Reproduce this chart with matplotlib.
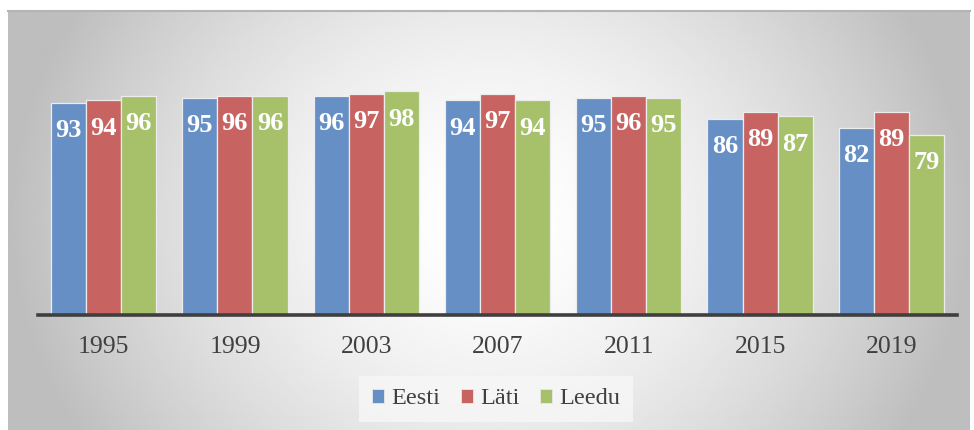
import numpy as np
import matplotlib
matplotlib.use("Agg")
import matplotlib.pyplot as plt
from matplotlib.patches import Patch

years = ["1995", "1999", "2003", "2007", "2011", "2015", "2019"]
eesti = [93, 95, 96, 94, 95, 86, 82]
lati = [94, 96, 97, 97, 96, 89, 89]
leedu = [96, 96, 98, 94, 95, 87, 79]
series_names = ["Eesti", "Läti", "Leedu"]

COLORS = ["#658FC5", "#C76462", "#A6C16A"]
TEXT_COL = "#404040"
SERIF = "Liberation Serif"

W, H = 974, 430
fig = plt.figure(figsize=(W / 100, H / 100), dpi=100)
fig.patch.set_facecolor("white")

# background panel with radial gradient (white in the middle, gray at the sides)
bg = fig.add_axes([8 / W, 0, 962 / W, 419 / H])
xx, yy = np.meshgrid(np.linspace(8, 970, 400), np.linspace(11, 430, 200))
r = np.sqrt(((xx - 490) / 480.0) ** 2 + ((yy - 220) / 420.0) ** 2)
shade = 255 - 65 * np.clip(r, 0, 1) ** 1.6
bg.imshow(shade, cmap="gray", vmin=0, vmax=255, aspect="auto",
          extent=(0, 1, 0, 1), interpolation="bilinear")
bg.plot([0, 1], [1, 1], color="#b4b4b4", lw=1.5, transform=bg.transAxes, clip_on=False)
bg.set_xlim(0, 1)
bg.set_ylim(0, 1)
bg.axis("off")

# main chart
ax = fig.add_axes([38 / W, 1 - 315 / H, 919 / W, 274 / H])
ax.patch.set_alpha(0)

x = np.arange(len(years))
bw = 0.267
all_series = [eesti, lati, leedu]
for i, vals in enumerate(all_series):
    pos = x + (i - 1) * bw
    bars = ax.bar(pos, vals, width=bw, color=COLORS[i], edgecolor="#ececec",
                  linewidth=0.9, label=series_names[i], zorder=2)
    for b, v in zip(bars, vals):
        ax.annotate(str(v), (b.get_x() + b.get_width() / 2, v),
                    xytext=(0, -20), textcoords="offset points",
                    ha="center", va="center", color="white",
                    fontsize=19, fontweight="bold", family=SERIF, zorder=3)

ax.set_xlim(-0.5, len(years) - 0.5)
ax.set_ylim(0, 120)
ax.set_xticks(x)
ax.set_xticklabels(years, fontsize=18.5, family=SERIF, color=TEXT_COL)
ax.tick_params(axis="x", length=0, pad=15)
ax.set_yticks([])
for s in ["top", "right", "left"]:
    ax.spines[s].set_visible(False)
ax.spines["bottom"].set_color("#3f3f3f")
ax.spines["bottom"].set_linewidth(2.6)
ax.spines["bottom"].set_zorder(4)

handles = [Patch(facecolor=c, edgecolor="#e8e8e8", linewidth=0.6) for c in COLORS]
leg = fig.legend(handles, series_names, loc="center", bbox_to_anchor=(496 / W, 1 - 399 / H),
                 ncol=3, frameon=True, fancybox=False,
                 prop={"family": SERIF, "size": 17.5},
                 handlelength=0.5, handleheight=0.5, handletextpad=0.3,
                 columnspacing=0.85, borderpad=0.5)
leg.get_frame().set_facecolor("#f7f7f7")
leg.get_frame().set_edgecolor("none")
leg.get_frame().set_alpha(0.8)
for t in leg.get_texts():
    t.set_color(TEXT_COL)

fig.savefig("out.png", dpi=100)
